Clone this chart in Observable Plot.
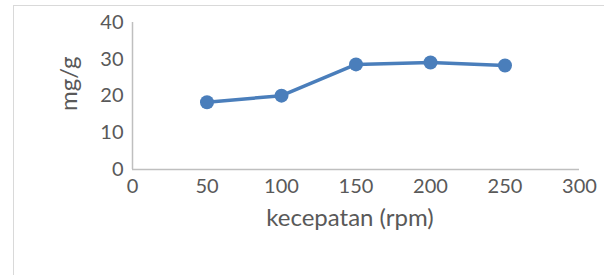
<!DOCTYPE html>
<html>
<head>
<meta charset="utf-8">
<script src="https://cdn.jsdelivr.net/npm/d3@7"></script>
<script src="https://cdn.jsdelivr.net/npm/@observablehq/plot@0.6"></script>
<style>
  html, body { margin: 0; padding: 0; background: #fff; overflow: hidden; }
  #wrap { position: relative; width: 604px; height: 275px; overflow: hidden; }
  #border { position: absolute; left: 13px; top: 5px; width: 700px; height: 400px; border: 1px solid #d9d9d9; box-sizing: border-box; }
  #chart { position: absolute; left: 0; top: 0; }
</style>
</head>
<body>
<div id="wrap"><div id="border"></div><div id="chart"></div></div>
<script>
const speed = [50, 100, 150, 200, 250];
const capacity = [18.3, 20.1, 28.6, 29.1, 28.3];
const xTicks = [0, 50, 100, 150, 200, 250, 300];
const yTicks = [0, 10, 20, 30, 40];
const xTitle = "kecepatan (rpm)";
const yTitle = "mg/g";

const data = speed.map((s, i) => ({speed: s, value: capacity[i]}));
const font = "Lato, 'Open Sans', sans-serif";

const chart = Plot.plot({
  width: 604,
  height: 275,
  marginLeft: 132,
  marginRight: 25,
  marginTop: 22,
  marginBottom: 106,
  style: {fontFamily: font, fontSize: "20px", color: "#595959", background: "transparent", overflow: "visible"},
  x: {domain: [0, 300]},
  y: {domain: [0, 40]},
  marks: [
    Plot.axisX({ticks: xTicks, tickSize: 0, tickPadding: 9, label: null, fill: "#595959", fontSize: 20}),
    Plot.axisY({ticks: yTicks, tickSize: 0, tickPadding: 9, label: null, fill: "#595959", fontSize: 20}),
    Plot.ruleY([0], {stroke: "#bfbfbf", strokeWidth: 1.5}),
    Plot.ruleX([0], {stroke: "#bfbfbf", strokeWidth: 1.5}),
    Plot.line(data, {x: "speed", y: "value", stroke: "#4a7ebb", strokeWidth: 3.5}),
    Plot.dot(data, {x: "speed", y: "value", r: 7, fill: "#4a7ebb", stroke: "none"}),
    Plot.text([xTitle], {frameAnchor: "bottom", dx: -6, dy: 56, fontSize: 24, fill: "#595959", fontFamily: font}),
    Plot.text([yTitle], {frameAnchor: "left", dx: -63, dy: 15, rotate: -90, fontSize: 24, fill: "#595959", fontFamily: font})
  ]
});
document.getElementById("chart").appendChild(chart);
</script>
</body>
</html>
